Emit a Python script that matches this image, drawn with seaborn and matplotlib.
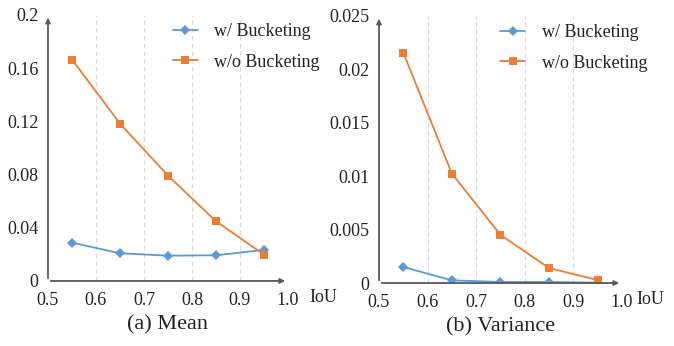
import pandas as pd
import matplotlib.pyplot as plt
import seaborn as sns

# IoU thresholds
iou = [0.55, 0.65, 0.75, 0.85, 0.95]

# (a) Mean
mean_w = [0.0288, 0.0208, 0.0190, 0.0193, 0.0233]
mean_wo = [0.1664, 0.1183, 0.0792, 0.0449, 0.0198]

# (b) Variance
var_w = [0.0015, 0.00025, 0.0001, 0.0001, 0.00003]
var_wo = [0.02157, 0.01024, 0.00451, 0.0014, 0.00028]

labels = ['w/ Bucketing', 'w/o Bucketing']
x_ticks = [0.5, 0.6, 0.7, 0.8, 0.9, 1.0]

sns.set_style('white')
plt.rcParams['font.family'] = ['Liberation Serif', 'DejaVu Serif']

palette = {'w/ Bucketing': '#5B9BD5', 'w/o Bucketing': '#ED7D31'}
markers = {'w/ Bucketing': 'D', 'w/o Bucketing': 's'}


def make_df(w, wo):
	df = pd.DataFrame({'IoU': iou * 2,
					   'value': w + wo,
					   'method': [labels[0]] * len(w) + [labels[1]] * len(wo)})
	return df


def draw(ax, df, y_ticks, y_labels, title, legend_anchor, iou_x):
	sns.lineplot(data=df, x='IoU', y='value', hue='method', style='method',
				 palette=palette, markers=markers, dashes=False, markersize=5.5,
				 markeredgewidth=0, linewidth=1.3, ax=ax)
	ax.set_xlim(0.5, 1.0)
	ax.set_ylim(y_ticks[0], y_ticks[-1])
	ax.set_xticks(x_ticks)
	ax.set_xticklabels(['0.5', '0.6', '0.7', '0.8', '0.9', '1.0'], fontsize=13)
	ax.set_yticks(y_ticks)
	ax.set_yticklabels(y_labels, fontsize=13)
	ax.tick_params(axis='both', length=0, pad=7, colors='#222222')
	ax.tick_params(axis='x', pad=8)
	ax.set_xlabel('')
	ax.set_ylabel('')
	for s in ax.spines.values():
		s.set_visible(False)
	for xv in x_ticks[1:]:
		ax.axvline(xv, color='#D9D9D9', lw=0.8, ls=(0, (4, 3)), zorder=0)
	# axis arrows
	ax.annotate('', xy=(1.0, 0), xytext=(0, 0), xycoords='axes fraction',
				arrowprops=dict(arrowstyle='-|>', color='#595959', lw=1.3, mutation_scale=7))
	ax.annotate('', xy=(0, 1.0), xytext=(0, 0), xycoords='axes fraction',
				arrowprops=dict(arrowstyle='-|>', color='#595959', lw=1.3, mutation_scale=7))
	ax.text(iou_x, -0.062, 'IoU', transform=ax.transAxes, fontsize=13,
			ha='left', va='center', color='#222222')
	ax.text(0.5, -0.165, title, transform=ax.transAxes, fontsize=16,
			ha='center', va='center', color='#222222')
	leg = ax.legend(loc='upper right', bbox_to_anchor=legend_anchor, frameon=False,
					fontsize=13, labelspacing=0.75, handlelength=1.4, handletextpad=0.9)
	for t in leg.get_texts():
		t.set_color('#222222')


fig = plt.figure(figsize=(6.74, 3.46), dpi=100)
ax1 = fig.add_axes([0.0712, 0.188, 0.356, 0.769])
ax2 = fig.add_axes([0.5623, 0.182, 0.3605, 0.772])

draw(ax1, make_df(mean_w, mean_wo),
	 [0, 0.04, 0.08, 0.12, 0.16, 0.2], ['0', '0.04', '0.08', '0.12', '0.16', '0.2'],
	 '(a) Mean', (1.2, 1.03), 1.09)
draw(ax2, make_df(var_w, var_wo),
	 [0, 0.005, 0.01, 0.015, 0.02, 0.025], ['0', '0.005', '0.01', '0.015', '0.02', '0.025'],
	 '(b) Variance', (1.17, 1.03), 1.06)

fig.savefig('out.png', dpi=100)
